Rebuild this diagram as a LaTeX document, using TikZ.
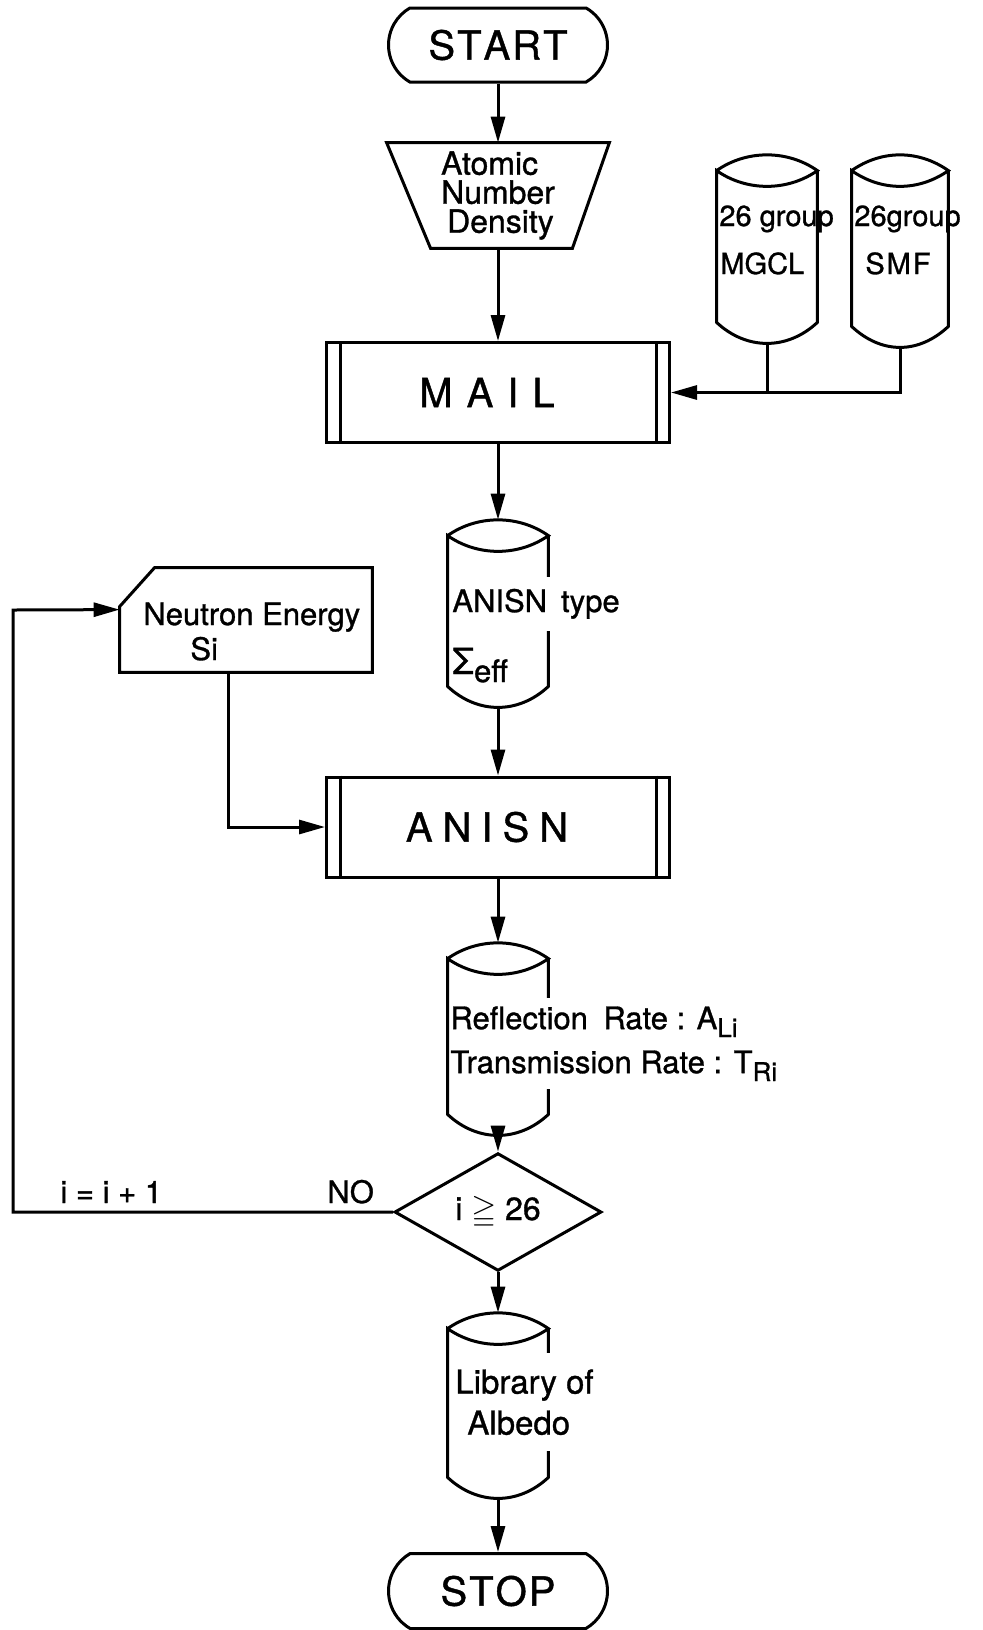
\documentclass[tikz,border=0pt]{standalone}
\usepackage{fontspec}
\setmainfont{TeX Gyre Heros}[FakeBold=1]
\usepackage{amssymb}
\usetikzlibrary{arrows.meta,calc,shapes.geometric,shapes.misc}

\tikzset{
  flow/.style={line width=1.5pt},
  arrow/.style={flow,-{Triangle[length=13pt,width=7pt]}},
  txt/.style={inner sep=0pt, font=\fontsize{15.5}{17}\selectfont},
  gaptxt/.style={txt, fill=white, inner ysep=5pt},
  terminal/.style={draw, flow, rounded rectangle, rounded rectangle arc length=120,
    minimum width=109.5pt, minimum height=37pt, inner sep=0pt, font=\fontsize{20}{20}\selectfont},
  procbox/.style={draw, flow, rectangle, minimum width=171.5pt, minimum height=50pt,
    inner sep=0pt, font=\fontsize{20}{20}\selectfont},
  drumbox/.style={rectangle, minimum width=50pt, inner sep=0pt},
  decision/.style={draw, flow, diamond, minimum width=103.5pt, minimum height=44.5pt,
    inner sep=0pt, font=\fontsize{16}{16}\selectfont},
}

% drum outline drawn round a named drumbox
\newcommand{\drum}[1]{%
  \draw[flow] ($(#1.north west)+(0,16)$)
    .. controls +(30,-21) and +(-30,-21) .. ($(#1.north east)+(0,16)$)
    .. controls +(-30,21) and +(30,21) .. ($(#1.north west)+(0,16)$)
    -- ($(#1.south west)+(0,-21)$)
    .. controls +(30,28) and +(-30,28) .. ($(#1.south east)+(0,-21)$)
    -- ($(#1.north east)+(0,16)$);
}
% side bars of a predefined process box
\newcommand{\procbars}[1]{%
  \draw[flow] ($(#1.north west)+(15,0)$) -- ($(#1.south west)+(15,0)$);
  \draw[flow] ($(#1.north east)+(-15,0)$) -- ($(#1.south east)+(-15,0)$);
}

\begin{document}
\begin{tikzpicture}[x=0.5pt,y=-0.5pt]
\useasboundingbox (0,0) rectangle (983,1630);

\node[terminal] (start) at (498,45) {S\kern1pt T\kern1pt A\kern1pt R\kern1pt T};

\node[txt, align=left, font=\fontsize{16}{14.5}\selectfont,
  minimum width=111pt, minimum height=52.5pt] (density) at (498,195.5)
  {Atomic\\Number\\\hspace*{3pt}Density};
\draw[flow] (density.north west) -- (density.north east)
  -- ($(density.south east)+(-37,0)$) -- ($(density.south west)+(44,0)$) -- cycle;

% data sets
\node[drumbox, minimum height=94pt] (mgcl) at (767,249) {};
\drum{mgcl}
\node[txt, anchor=base west, font=\fontsize{14.5}{16}\selectfont] (mgclA) at (719,226) {26 group};
\node[txt, anchor=base west, font=\fontsize{14.5}{16}\selectfont] (mgclB) at (720,274) {MGCL};

\node[drumbox, minimum width=48pt, minimum height=96pt] (smf) at (900,251) {};
\drum{smf}
\node[txt, anchor=base west, font=\fontsize{14.5}{16}\selectfont] (smfA) at (854,226) {26group};
\node[txt, anchor=base west, font=\fontsize{14.5}{16}\selectfont] (smfB) at (865,274) {S\kern1pt M\kern1pt F};

\node[procbox] (mail) at (498,392.5) {M\kern7pt A\kern7pt I\kern7pt L\kern11pt};
\procbars{mail}

\node[drumbox, minimum height=93.5pt] (anisntype) at (498,613.5) {};
\drum{anisntype}
\node[gaptxt, anchor=base west, inner ysep=6pt] (anisntypeA) at (452,612) {ANISN\hspace{0.45em}type};
\node[txt, anchor=base west] (anisntypeB) at (452,674)
  {{\fontsize{18}{18}\selectfont Σ}\raisebox{-4pt}{eff}};

\node[minimum width=126pt, minimum height=52pt, inner sep=0pt] (energy) at (246,620) {};
\draw[flow] ($(energy.north west)+(35,0)$) -- (energy.north east) -- (energy.south east)
  -- (energy.south west) -- ($(energy.north west)+(0,39)$) -- cycle;
\node[txt, anchor=base west] (energyA) at (143,625) {Neutron Energy};
\node[txt, anchor=base west] (energyB) at (190,660) {Si};

\node[procbox] (anisn) at (498,827) {A\kern5pt N\kern5pt I\kern5pt S\kern5pt N\kern11pt};
\procbars{anisn}

\node[drumbox, minimum height=96pt] (refl) at (498,1039) {};
\drum{refl}
\node[gaptxt, anchor=north west, align=left, inner ysep=4pt,
  font=\fontsize{15.5}{22}\selectfont] (reflA) at (450,998)
  {Reflection\hspace{0.5em}Rate : A\raisebox{-4pt}{\fontsize{13}{13}\selectfont Li}\\
   Transmission Rate : T\raisebox{-4pt}{\fontsize{13}{13}\selectfont Ri}};

\node[decision] (test) at (498,1212) {i $\geqq$ 26};
\node[txt, anchor=base west] (incr) at (60,1203) {i = i + 1};
\node[txt, anchor=base west] (no) at (327,1203) {NO};

\node[drumbox, minimum height=92.5pt] (library) at (498,1405.5) {};
\drum{library}
\node[gaptxt, anchor=north west, align=left, inner ysep=8pt,
  font=\fontsize{16.5}{20.5}\selectfont] (libA) at (455,1353)
  {Library of\\\hspace*{6pt}Albedo};

\node[terminal, minimum height=37.5pt] (stop) at (498,1591) {S\kern1pt T\kern1pt O\kern1pt P};

% connectors
\draw[arrow] (start.south) -- (density.north);
\draw[arrow] (density.south) -- (mail.north);
\draw[flow] (mgcl.south) -- (mgcl.south |- mail.east);
\draw[arrow] (smf.south) |- (mail.east);
\draw[arrow] (mail.south) -- (anisntype.north);
\draw[arrow] (anisntype.south) -- (anisn.north);
\draw[arrow] ($(energy.south west)!0.43!(energy.south east)$) |- (anisn.west);
\draw[arrow] (anisn.south) -- (refl.north);
\draw[arrow] (refl.south) -- (test.north);
\coordinate (loop) at (13,610);
\draw[arrow] (test.west) -| (loop) -- ($(energy.north west)+(0,42)$);
\draw[arrow] (test.south) -- (library.north);
\draw[arrow] (library.south) -- (stop.north);
\end{tikzpicture}
\end{document}
